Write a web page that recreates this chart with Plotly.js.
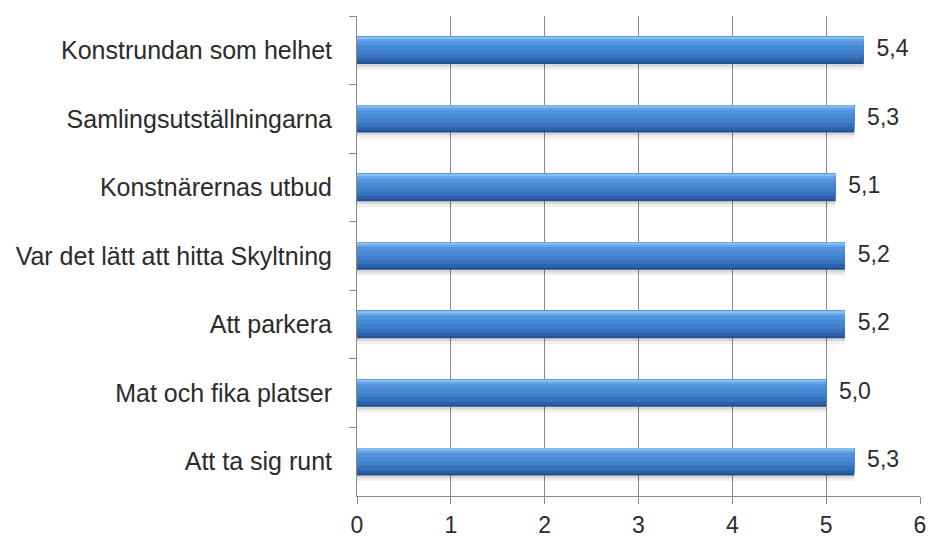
<!DOCTYPE html>
<html>
<head>
<meta charset="utf-8">
<script src="https://cdn.plot.ly/plotly-3.0.1.min.js"></script>
<style>
  html, body { margin: 0; padding: 0; background: #fff; }
  #chart { width: 933px; height: 543px; }
</style>
</head>
<body>
<div id="chart"></div>
<script>
// Betyg per område (skala 0-6)
const categories = [
  'Konstrundan som helhet',
  'Samlingsutställningarna',
  'Konstnärernas utbud',
  'Var det lätt att hitta Skyltning',
  'Att parkera',
  'Mat och fika platser',
  'Att ta sig runt'
];
const values = [5.4, 5.3, 5.1, 5.2, 5.2, 5.0, 5.3];
const xTicks = [0, 1, 2, 3, 4, 5, 6];

const fontFamily = 'Liberation Sans, Arial, sans-serif';
const textColor = '#2b2b2b';
const labels = values.map(v => '  ' + v.toFixed(1).replace('.', ','));

// stacked layers (bottom dark -> top light) fake the cylinder shading
const shading = [
  [0.45, -0.165, 'rgba(0,0,0,0.06)'],
  [0.42, -0.18, 'rgba(0,0,0,0.10)'],
  [0.40, -0.20, '#22508f'],
  [0.37, -0.20, '#2c62aa'],
  [0.32, -0.20, '#3672bd'],
  [0.26, -0.20, '#3f7fcc'],
  [0.20, -0.20, '#4889d6'],
  [0.13, -0.20, '#5294dd'],
  [0.07, -0.20, '#68a5e6'],
  [0.03, -0.195, '#8cc0f2']
];

const traces = shading.map(([w, off, col]) => ({
  type: 'bar',
  orientation: 'h',
  x: values,
  y: categories,
  width: w,
  offset: off,
  marker: { color: col, line: { width: 0 } },
  hoverinfo: 'skip',
  showlegend: false
}));

traces.push({
  type: 'scatter',
  mode: 'text',
  x: values,
  y: categories,
  text: labels,
  textposition: 'middle right',
  textfont: { family: fontFamily, size: 23, color: textColor },
  hoverinfo: 'skip',
  showlegend: false,
  cliponaxis: false
});

const layout = {
  width: 933,
  height: 543,
  margin: { l: 357, r: 13, t: 16, b: 47 },
  paper_bgcolor: '#fff',
  plot_bgcolor: '#fff',
  barmode: 'overlay',
  font: { family: fontFamily, size: 23, color: textColor },
  xaxis: {
    range: [0, 6],
    tickvals: xTicks,
    ticktext: xTicks.map(String),
    showgrid: true,
    gridcolor: '#8a8a8a',
    gridwidth: 1,
    zeroline: false,
    showline: true,
    linecolor: '#8a8a8a',
    ticks: 'outside',
    ticklen: 7,
    tickcolor: '#8a8a8a',
    ticklabelstandoff: 1,
    tickfont: { family: fontFamily, size: 23, color: textColor },
    fixedrange: true
  },
  yaxis: {
    type: 'category',
    autorange: 'reversed',
    showline: true,
    linecolor: '#8a8a8a',
    showgrid: false,
    ticks: 'outside',
    tickson: 'boundaries',
    ticklen: 7,
    tickcolor: '#8a8a8a',
    ticklabelstandoff: 19,
    tickfont: { family: fontFamily, size: 25, color: textColor },
    fixedrange: true
  }
};

Plotly.newPlot('chart', traces, layout, { displayModeBar: false, staticPlot: true });
</script>
</body>
</html>
